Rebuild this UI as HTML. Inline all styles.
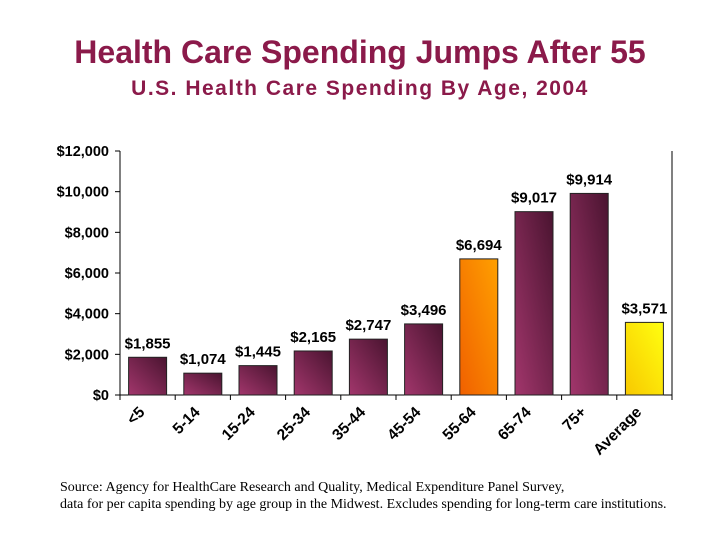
<!DOCTYPE html>
<html><head><meta charset="utf-8"><style>
body{margin:0;background:#fff;width:720px;height:540px;overflow:hidden;font-family:"Liberation Sans",sans-serif}
</style></head><body>
<svg width="720" height="540" xmlns="http://www.w3.org/2000/svg">
<defs>
<linearGradient id="gm" x1="0" y1="1" x2="1" y2="0"><stop offset="0" stop-color="#a2366c"/><stop offset="1" stop-color="#4a1430"/></linearGradient>
<linearGradient id="go" x1="0" y1="1" x2="1" y2="0"><stop offset="0" stop-color="#f06000"/><stop offset="1" stop-color="#ffa000"/></linearGradient>
<linearGradient id="gy" x1="0" y1="1" x2="1" y2="0"><stop offset="0" stop-color="#f8c800"/><stop offset="1" stop-color="#ffff10"/></linearGradient>
</defs>
<text x="360" y="63" text-anchor="middle" font-size="32" font-weight="bold" fill="#8b1a4a">Health Care Spending Jumps After 55</text>
<text x="360" y="95" text-anchor="middle" font-size="21" letter-spacing="1.5" font-weight="bold" fill="#8b1a4a">U.S. Health Care Spending By Age, 2004</text>
<g id="plot"></g>
<text x="60" y="491" font-size="14" font-family="Liberation Serif,serif">Source: Agency for HealthCare Research and Quality, Medical Expenditure Panel Survey,</text>
<text x="60" y="508" font-size="14" font-family="Liberation Serif,serif">data for per capita spending by age group in the Midwest. Excludes spending for long-term care institutions.</text>
</svg>
<script>
const categories=["<5","5-14","15-24","25-34","35-44","45-54","55-64","65-74","75+","Average"];
const values=[1855,1074,1445,2165,2747,3496,6694,9017,9914,3571];
const valueLabels=["$1,855","$1,074","$1,445","$2,165","$2,747","$3,496","$6,694","$9,017","$9,914","$3,571"];
const yTicks=[0,2000,4000,6000,8000,10000,12000];
const yTickLabels=["$0","$2,000","$4,000","$6,000","$8,000","$10,000","$12,000"];
const fills=["gm","gm","gm","gm","gm","gm","go","gm","gm","gy"];
const NS="http://www.w3.org/2000/svg";
const g=document.getElementById('plot');
const L=120,R=672,T=151,B=395,yMax=12000;
const y=v=>B-(v/yMax)*(B-T);
const cw=(R-L)/categories.length;
const x=i=>L+cw*i;
function mk(t,a){const e=document.createElementNS(NS,t);for(const k in a)e.setAttribute(k,a[k]);g.appendChild(e);return e;}
let e;
e=mk('line',{x1:L,y1:T,x2:L,y2:B,stroke:'#000'});


e=mk('line',{x1:R,y1:T,x2:R,y2:B+2,stroke:'#000'});


e=mk('line',{x1:L-4,y1:B,x2:R,y2:B,stroke:'#000'});


yTicks.forEach((v,i)=>{
 e=mk('line',{x1:L-5,y1:y(v),x2:L,y2:y(v),stroke:'#000'});
 
 
 e=mk('text',{x:L-11,y:y(v)+5,'text-anchor':'end','font-size':'14.5','font-weight':'bold'});
 e.textContent=yTickLabels[i];
 
 
});
for(let i=0;i<=categories.length;i++){
 e=mk('line',{x1:x(i),y1:B,x2:x(i),y2:B+5,stroke:'#000'});
 
 
}
categories.forEach((c,i)=>{
 const bw=38,bx=x(i)+(cw-bw)/2,cx=x(i)+cw/2;
 e=mk('rect',{x:bx,y:y(values[i]),width:bw,height:B-y(values[i]),fill:'url(#'+fills[i]+')',stroke:'#222','stroke-width':'1'});
 
 
 e=mk('text',{x:cx,y:y(values[i])-9,'text-anchor':'middle','font-size':'15','font-weight':'bold'});
 e.textContent=valueLabels[i];
 
 
 e=mk('text',{x:0,y:0,'text-anchor':'end','font-size':'15.5','font-weight':'bold',transform:'translate('+(cx-2)+','+(B+18)+') rotate(-45)'});
 e.textContent=c;
 
 
});
</script>
</body></html>
